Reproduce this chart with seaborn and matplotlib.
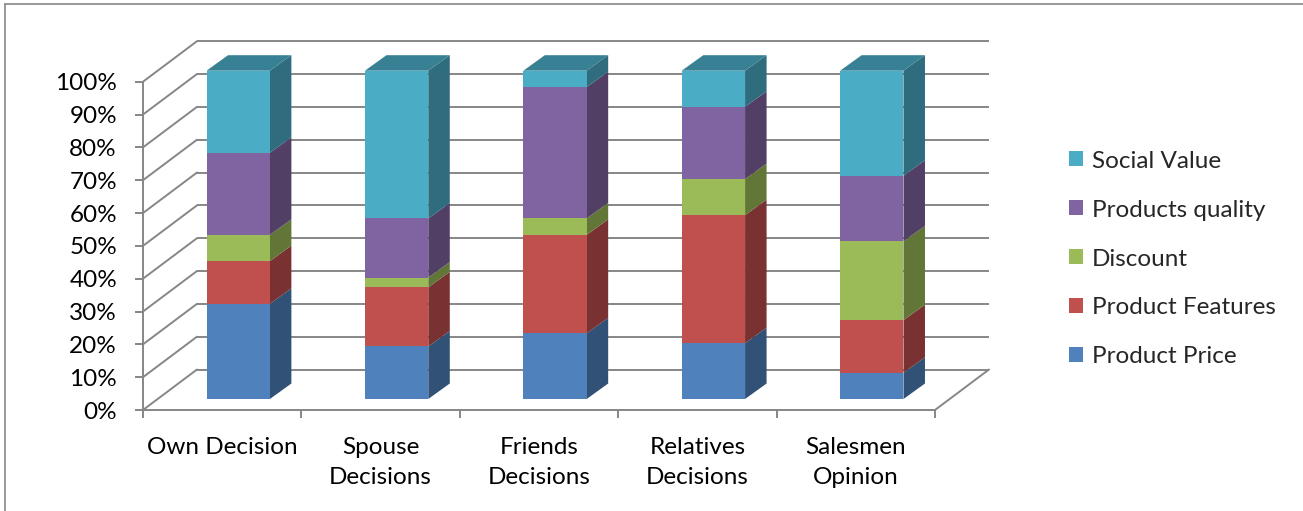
import numpy as np
import pandas as pd
import matplotlib
matplotlib.use("Agg")
import matplotlib.pyplot as plt
from matplotlib.patches import Polygon, Patch
from matplotlib.lines import Line2D
from matplotlib.transforms import ScaledTranslation
import seaborn as sns

# ---------------- data ----------------
categories = ["Own Decision", "Spouse\nDecisions", "Friends\nDecisions",
              "Relatives\nDecisions", "Salesmen\nOpinion"]
product_price = [29, 16, 20, 17, 8]
product_features = [13, 18, 30, 39, 16]
discount = [8, 3, 5, 11, 24]
products_quality = [25, 18, 40, 22, 20]
social_value = [25, 45, 5, 11, 32]
series_names = ["Product Price", "Product Features", "Discount",
                "Products quality", "Social Value"]
y_ticks = [0, 10, 20, 30, 40, 50, 60, 70, 80, 90, 100]
y_tick_labels = [f"{v}%" for v in y_ticks]

# ---------------- style ----------------
front_colors = ["#4F81BD", "#C0504D", "#9BBB59", "#8064A2", "#4BACC6"]

def shade(hexc, f):
    r, g, b = matplotlib.colors.to_rgb(hexc)
    return (r * f, g * f, b * f)

side_colors = [shade(c, 0.63) for c in front_colors]
top_colors = [shade(c, 0.75) for c in front_colors]
grid_color = "#868686"
grid_lw = 1.4

sns.set_style("white")
plt.rcParams["font.family"] = ["Lato", "DejaVu Sans"]

W, H = 1303, 511
DPI = 100
fig = plt.figure(figsize=(W / DPI, H / DPI), dpi=DPI)
fig.patch.set_facecolor("white")

# fit font size to the reference text width
r = fig.canvas.get_renderer()
probe = fig.text(0, 0, "Product Features", fontsize=10)
w10 = probe.get_window_extent(r).width
probe.remove()
FS = 10 * 184.0 / w10
FS_PX = FS * DPI / 72.0

# front plane of the 3-D box (pixel positions of the reference)
x0, x1 = 143, 935
y0, y1 = 410, 81.7
ax = fig.add_axes([x0 / W, (H - y0) / H, (x1 - x0) / W, (y0 - y1) / H])
ax.set_facecolor("none")

# offsets (pixels, display y upward)
BACK = (54, 40.5)      # back wall
BAR_FRONT = (16, 11)   # bar front plane
BAR_DEPTH = (21.5, 15.5)

def px_off(dx, dy):
    return ScaledTranslation(dx / DPI, dy / DPI, fig.dpi_scale_trans)

# ---------------- data frame & stacked fronts via seaborn ----------------
series = [product_price, product_features, discount, products_quality, social_value]
df = pd.DataFrame({n: v for n, v in zip(series_names, series)})
df["category"] = categories
cum = df[series_names].cumsum(axis=1)

bar_tr = ax.transData + px_off(*BAR_FRONT)
bar_w = 0.4
for k in range(len(series_names) - 1, -1, -1):
    sns.barplot(x=df["category"], y=cum[series_names[k]], color=front_colors[k],
                saturation=1, width=bar_w, ax=ax, linewidth=0,
                transform=bar_tr, clip_on=False,
                zorder=3 + (len(series_names) - k) * 0.01)

n = len(categories)
ax.set_xlim(-0.5, n - 0.5)
ax.set_ylim(0, 100)
ax.set_xlabel("")
ax.set_ylabel("")

# ---------------- axes: spines & ticks ----------------
for s in ["top", "right"]:
    ax.spines[s].set_visible(False)
for s in ["left", "bottom"]:
    ax.spines[s].set_color(grid_color)
    ax.spines[s].set_linewidth(grid_lw)

ax.set_yticks(y_ticks, y_tick_labels)
ax.tick_params(axis="y", which="major", direction="out", length=8 * 0.72,
               width=grid_lw, color=grid_color, pad=18 * 0.72,
               labelsize=FS, labelcolor="black", left=True)
ax.set_xticks(np.arange(-0.5, n, 1.0))
ax.set_xticklabels([""] * (n + 1))
ax.set_xticks(np.arange(n), categories, minor=True)
ax.tick_params(axis="x", which="major", direction="out", length=8 * 0.72,
               width=grid_lw, color=grid_color, bottom=True)
ax.tick_params(axis="x", which="minor", length=0, pad=27 * 0.72,
               labelsize=FS, labelcolor="black", bottom=True)
for t in ax.get_xticklabels(minor=True):
    t.set_linespacing(1.55)

# ---------------- back wall / floor lines ----------------
back_tr = ax.transData + px_off(*BACK)
for yv in y_ticks:
    ax.plot([-0.5, n - 0.5], [yv, yv], color=grid_color, lw=grid_lw,
            transform=back_tr, clip_on=False, zorder=1, solid_capstyle="butt")

def to_disp(x, y):
    return ax.transData.transform((x, y))

def disp_line(p, q):
    ln = Line2D([p[0], q[0]], [p[1], q[1]], color=grid_color, lw=grid_lw,
                transform=None, zorder=1, clip_on=False)
    ax.add_line(ln)

for yv in y_ticks:
    p = to_disp(-0.5, yv)
    disp_line(p, p + np.array(BACK))
p = to_disp(n - 0.5, 0)
disp_line(p, p + np.array(BACK))

# ---------------- bar side and top faces ----------------
fo = np.array(BAR_FRONT)
dp = np.array(BAR_DEPTH)
for i in range(n):
    for k in range(len(series_names)):
        b = cum[series_names[k]].iloc[i] - series[k][i]
        t = cum[series_names[k]].iloc[i]
        pb = to_disp(i + bar_w / 2, b) + fo
        pt = to_disp(i + bar_w / 2, t) + fo
        side = Polygon([pb, pt, pt + dp, pb + dp], closed=True,
                       facecolor=side_colors[k], edgecolor="none",
                       transform=None, zorder=3, clip_on=False)
        ax.add_patch(side)
    k = len(series_names) - 1
    t = cum[series_names[k]].iloc[i]
    pl = to_disp(i - bar_w / 2, t) + fo
    pr = to_disp(i + bar_w / 2, t) + fo
    top = Polygon([pl, pr, pr + dp, pl + dp], closed=True,
                  facecolor=top_colors[k], edgecolor="none",
                  transform=None, zorder=3, clip_on=False)
    ax.add_patch(top)

# ---------------- legend ----------------
handles = [Patch(facecolor=front_colors[k], edgecolor="none", label=series_names[k])
           for k in range(len(series_names) - 1, -1, -1)]
row_h = 48.5
leg = fig.legend(handles=handles, loc="center left",
                 bbox_to_anchor=(1069 / W, (H - 259) / H), frameon=False,
                 fontsize=FS, handlelength=0.58, handleheight=0.58,
                 handletextpad=0.35, labelspacing=0.68 + 11.5 / FS_PX,
                 borderpad=0, borderaxespad=0)

# ---------------- chart border (top and left) ----------------
fig.add_artist(Line2D([5 / W, 5 / W], [0, 1 - 4.5 / H], transform=fig.transFigure,
                      color=grid_color, lw=1.2))
fig.add_artist(Line2D([5 / W, 1], [1 - 4.5 / H, 1 - 4.5 / H], transform=fig.transFigure,
                      color=grid_color, lw=1.2))

fig.savefig("out.png", dpi=DPI)
